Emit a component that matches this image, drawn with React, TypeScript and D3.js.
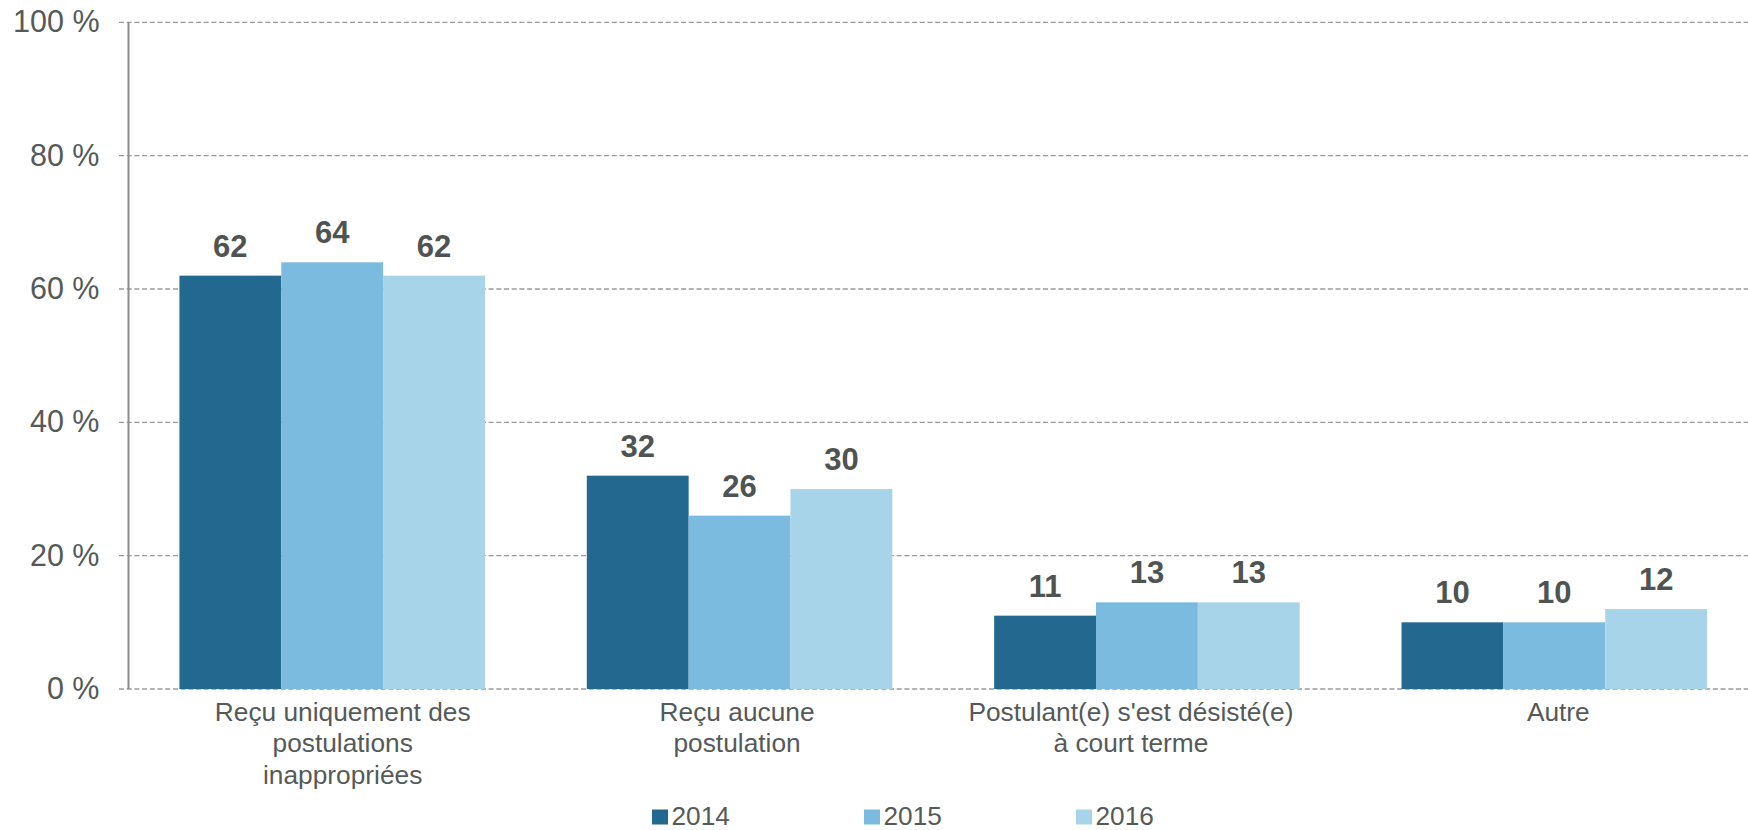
import React from "react";
import * as d3 from "d3";

const categories: string[][] = [
  ["Reçu uniquement des", "postulations", "inappropriées"],
  ["Reçu aucune", "postulation"],
  ["Postulant(e) s'est désisté(e)", "à court terme"],
  ["Autre"],
];
const seriesNames = ["2014", "2015", "2016"];
const values2014 = [62, 32, 11, 10];
const values2015 = [64, 26, 13, 10];
const values2016 = [62, 30, 13, 12];
const yTicks = [0, 20, 40, 60, 80, 100];
const colors = ["#22688F", "#7BBBDF", "#A8D4EA"];

// layout: small horizontal nudges of category labels, as in the reference
const labelNudge = [10.5, -2.5, -16, 4];

const W = 1748;
const H = 830;
const FONT = "'Liberation Sans', Arial, Helvetica, sans-serif";
const TEXT = "#555a58";

export default function App() {
  const series = [values2014, values2015, values2016];
  const x0 = d3
    .scaleBand<number>()
    .domain(categories.map((_, i) => i))
    .range([128.5, 1758])
    .paddingInner(0.25)
    .paddingOuter(0.125);
  const x1 = d3
    .scaleBand<number>()
    .domain(seriesNames.map((_, i) => i))
    .range([0, x0.bandwidth()])
    .padding(0);
  const y = d3.scaleLinear().domain([0, 100]).range([689, 22.3]);

  return (
    <svg
      width={W}
      height={H}
      style={{ position: "absolute", left: 0, top: 0, background: "#fff" }}
      fontFamily={FONT}
    >
      {yTicks.map((t) => (
        <g key={t}>
          <line
            x1={119}
            x2={W}
            y1={y(t)}
            y2={y(t)}
            stroke="#9a9a9a"
            strokeWidth={1.3}
            strokeDasharray="5,2.7"
          />
          <text
            x={99.5}
            y={y(t) + 10}
            textAnchor="end"
            fontSize={30.5}
            fill={TEXT}
          >
            {`${t} %`}
          </text>
        </g>
      ))}
      {categories.map((cat, ci) => (
        <g key={ci} transform={`translate(${x0(ci)},0)`}>
          {series.map((vals, si) => (
            <g key={si}>
              <rect
                x={x1(si)}
                y={y(vals[ci])}
                width={x1.bandwidth()}
                height={y(0) - y(vals[ci])}
                fill={colors[si]}
              />
              <text
                x={(x1(si) as number) + x1.bandwidth() / 2}
                y={y(vals[ci]) - 19}
                textAnchor="middle"
                fontSize={31}
                fontWeight="bold"
                fill="#4f5452"
              >
                {vals[ci]}
              </text>
            </g>
          ))}
          {cat.map((line, li) => (
            <text
              key={li}
              x={x0.bandwidth() / 2 + labelNudge[ci]}
              y={720.5 + li * 31.5}
              textAnchor="middle"
              fontSize={26.3}
              fill={TEXT}
            >
              {line}
            </text>
          ))}
        </g>
      ))}
      <line x1={128.5} x2={128.5} y1={y(100)} y2={y(0)} stroke="#8c8c8c" strokeWidth={2} />
      {seriesNames.map((s, i) => (
        <g key={s} transform={`translate(${652 + i * 212},0)`}>
          <rect x={0} y={809.5} width={16} height={15} fill={colors[i]} />
          <text x={19.5} y={824.5} fontSize={26.2} fill={TEXT}>
            {s}
          </text>
        </g>
      ))}
    </svg>
  );
}
